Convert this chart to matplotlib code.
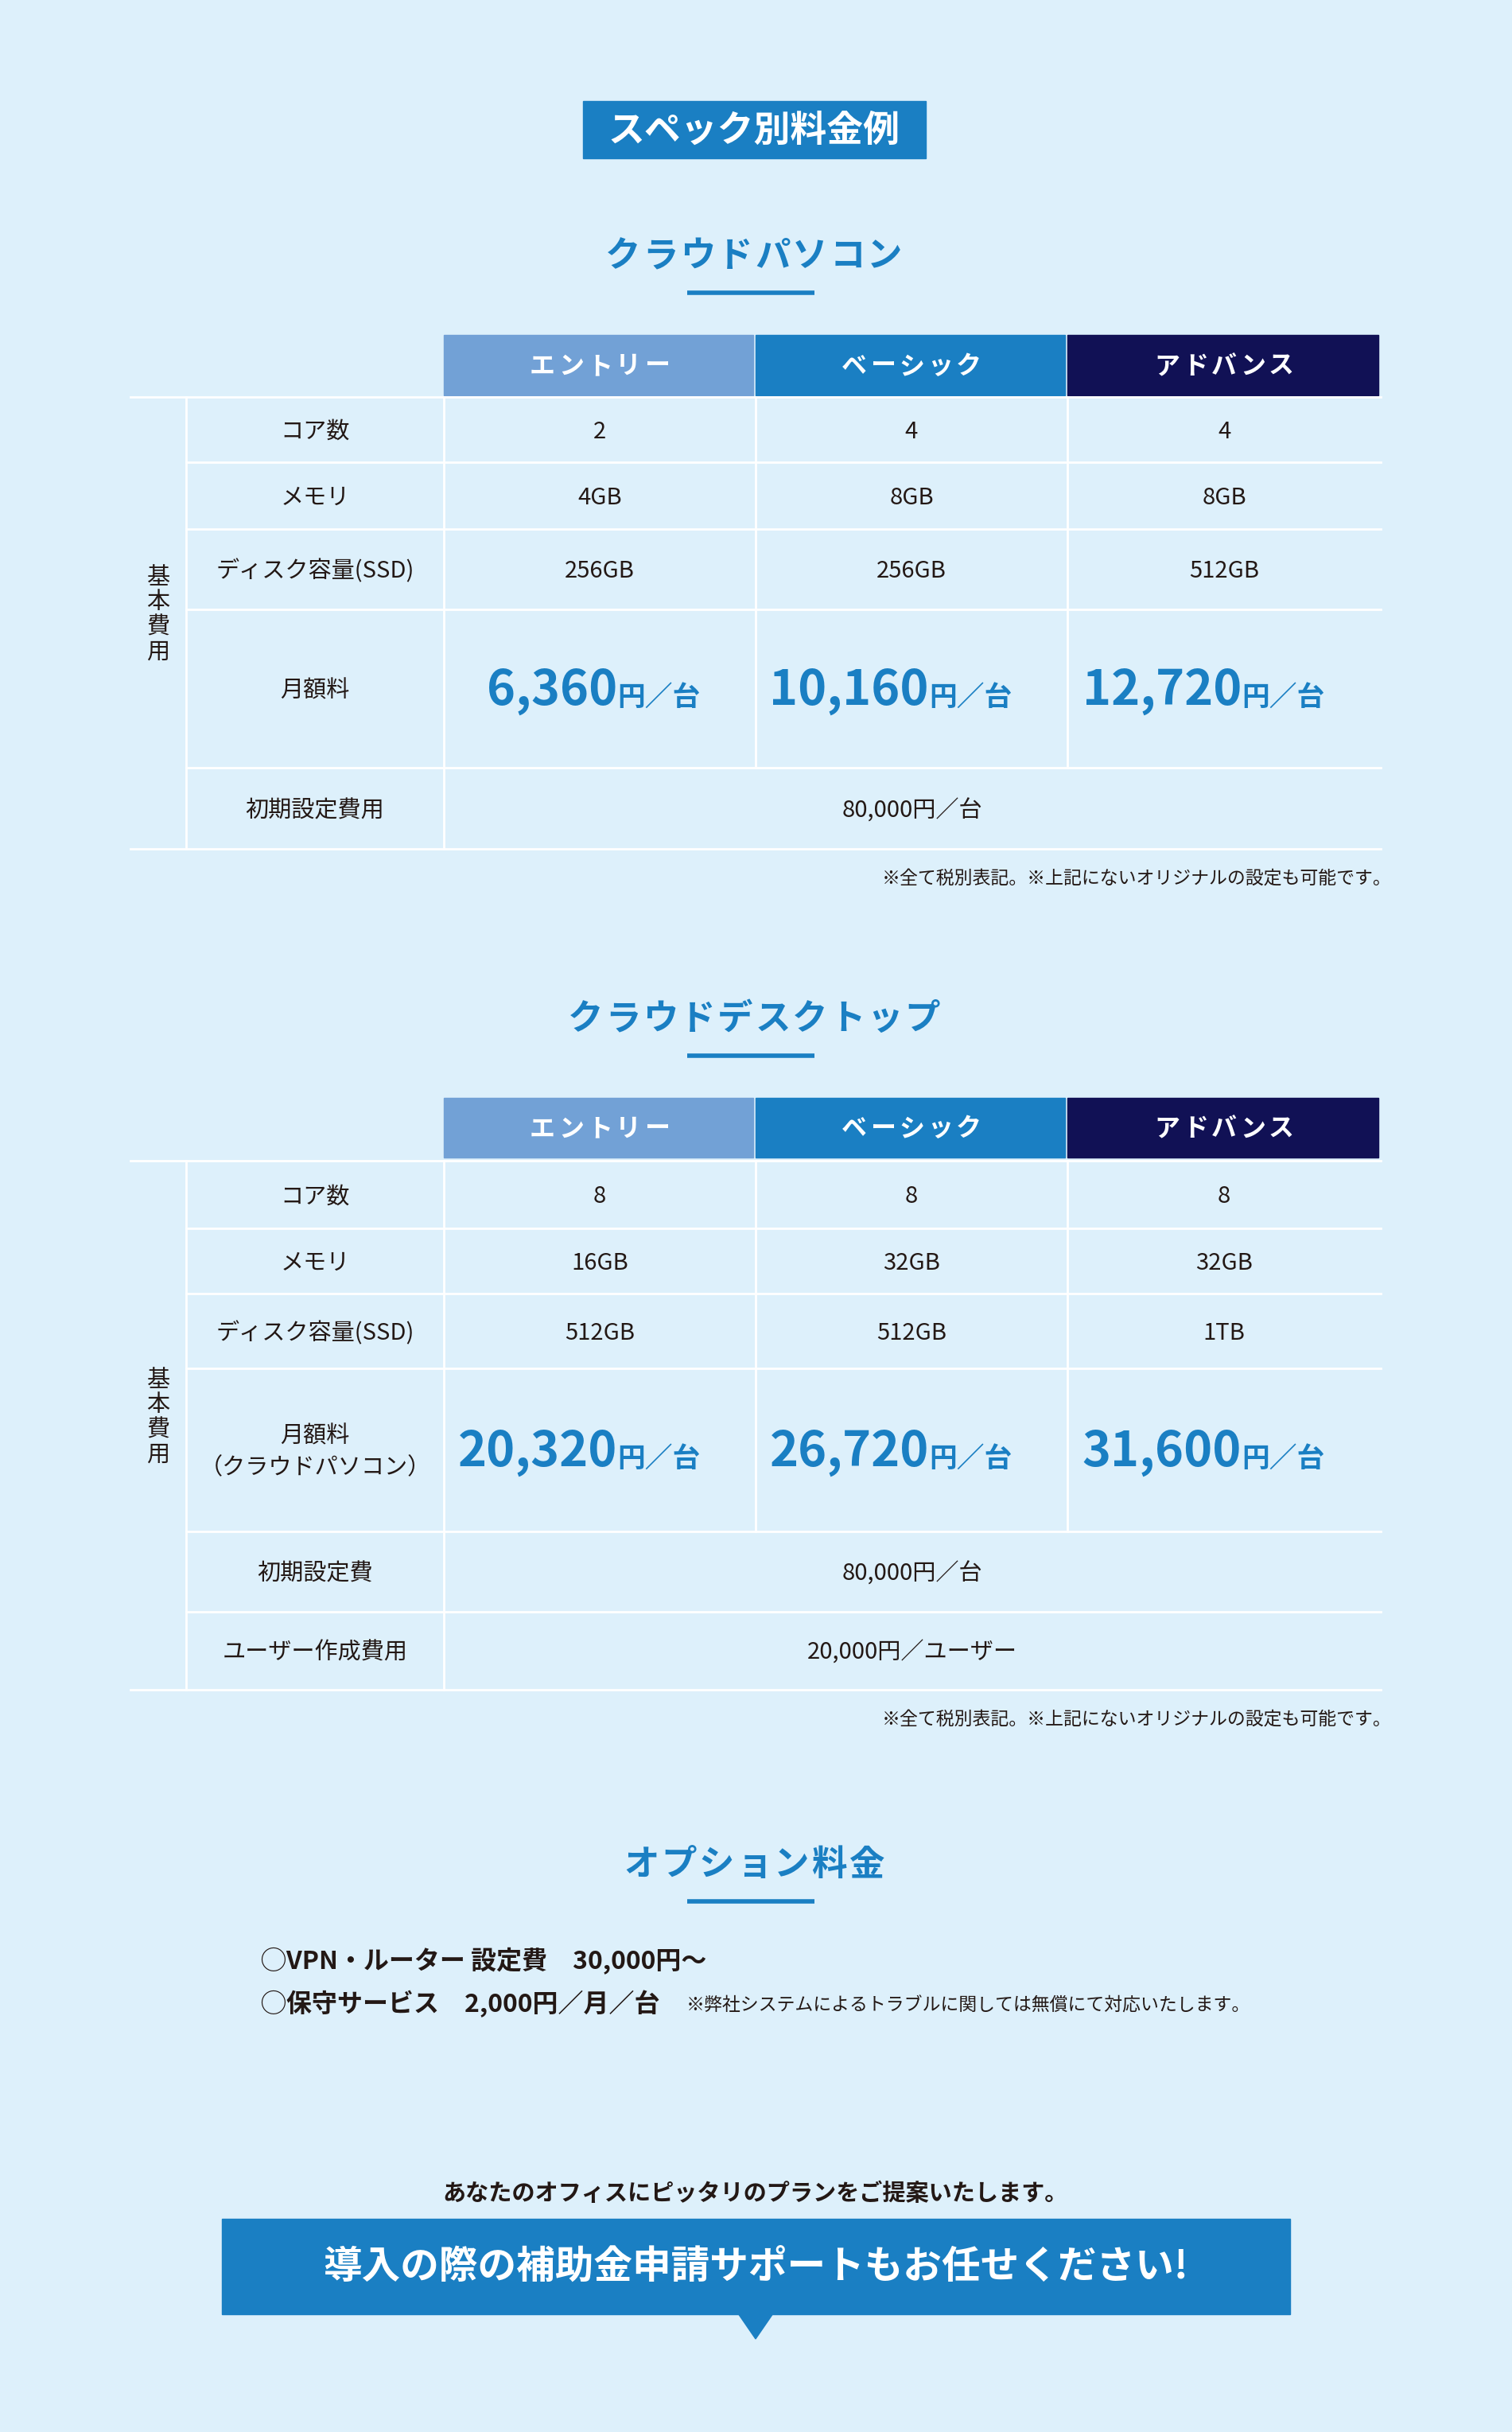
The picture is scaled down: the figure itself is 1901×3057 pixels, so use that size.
import matplotlib
matplotlib.use("Agg")
import matplotlib.pyplot as plt
from matplotlib.patches import Rectangle, Polygon

plt.rcParams["font.family"] = "Noto Sans CJK JP"

tiers = ["エントリー", "ベーシック", "アドバンス"]
tier_colors = ["#72A1D6", "#1A7FC3", "#111155"]

pc_rows = ["コア数", "メモリ", "ディスク容量(SSD)", "月額料", "初期設定費用"]
pc_cores = ["2", "4", "4"]
pc_memory = ["4GB", "8GB", "8GB"]
pc_disk = ["256GB", "256GB", "512GB"]
pc_price = ["6,360", "10,160", "12,720"]
pc_setup = "80,000円／台"

dt_rows = ["コア数", "メモリ", "ディスク容量(SSD)", "月額料\n（クラウドパソコン）", "初期設定費", "ユーザー作成費用"]
dt_cores = ["8", "8", "8"]
dt_memory = ["16GB", "32GB", "32GB"]
dt_disk = ["512GB", "512GB", "1TB"]
dt_price = ["20,320", "26,720", "31,600"]
dt_setup = "80,000円／台"
dt_user = "20,000円／ユーザー"

note = "※全て税別表記。※上記にないオリジナルの設定も可能です。"

BG = "#DDF0FB"
BLUE = "#1A7FC3"
TXT = "#231815"

W, H = 1901, 3057
fig = plt.figure(figsize=(W/100, H/100), dpi=100, facecolor=BG)
ax = fig.add_axes([0, 0, 1, 1])
ax.set_xlim(0, W); ax.set_ylim(H, 0); ax.axis("off")
ax.set_facecolor(BG)

ax.add_patch(Rectangle((733, 127), 431, 72, color=BLUE))
ax.text(948, 165, "スペック別料金例", color="white", fontsize=33, fontweight="bold", ha="center", va="center")

def spaced(x, y, text, step, **kw):
    n = len(text)
    for k, ch in enumerate(text):
        ax.text(x + (k - (n-1)/2)*step, y, ch, ha="center", va="center", **kw)

def section_title(y, text):
    spaced(948, y, text, 47, color=BLUE, fontsize=32, fontweight="bold")
    ax.plot([864, 1024], [y+46, y+46], color=BLUE, lw=4, solid_capstyle="butt")

cols = [558, 950, 1342, 1736]
LX, IX = 164, 234

def table(top, hb, lines, rows, data, spans):
    for i in range(3):
        ax.add_patch(Rectangle((cols[i], top), cols[i+1]-cols[i]-3, hb-top, color=tier_colors[i]))
        spaced((cols[i]+cols[i+1])/2, (top+hb)/2 + 2, tiers[i], 36, color="white", fontsize=23,
               fontweight="bold")
    lw = 2
    ax.plot([LX, cols[-1]], [lines[0], lines[0]], color="white", lw=lw)
    for y in lines[1:-1]:
        ax.plot([IX, cols[-1]], [y, y], color="white", lw=lw)
    ax.plot([LX, cols[-1]], [lines[-1], lines[-1]], color="white", lw=lw)
    ax.plot([IX, IX], [lines[0], lines[-1]], color="white", lw=lw)
    ax.plot([cols[0], cols[0]], [lines[0], lines[-1]], color="white", lw=lw)
    for r in range(len(rows)):
        y0, y1 = lines[r], lines[r+1]
        yc = (y0+y1)/2 + 3
        ax.text((IX+cols[0])/2, yc, rows[r], color=TXT, fontsize=21, ha="center", va="center", linespacing=1.4)
        if r in spans:
            ax.text((cols[0]+cols[-1])/2, yc, spans[r], color=TXT, fontsize=21, ha="center", va="center")
            continue
        for i in range(1, 3):
            ax.plot([cols[i], cols[i]], [y0, y1], color="white", lw=lw)
        for i in range(3):
            xc = (cols[i]+cols[i+1])/2
            v = data[r][i]
            if isinstance(v, tuple):
                ax.text(xc+22, yc, v[0], color=BLUE, fontsize=44, fontweight="bold", ha="right", va="center")
                ax.text(xc+22, yc+8, "円／台", color=BLUE, fontsize=25, fontweight="bold", ha="left", va="center")
            else:
                ax.text(xc, yc, v, color=TXT, fontsize=21, ha="center", va="center")
    ax.text((LX+IX)/2, (lines[0]+lines[-1])/2 - 10, "基\n本\n費\n用", color=TXT, fontsize=21,
            ha="center", va="center", linespacing=1.05)
    ax.text(1749, lines[-1]+37, note, color=TXT, fontsize=16.5, ha="right", va="center")

section_title(322, "クラウドパソコン")
table(421, 497, [499, 581, 665, 766, 965, 1067], pc_rows,
      [pc_cores, pc_memory, pc_disk, [(p,) for p in pc_price]], {4: pc_setup})

section_title(1281, "クラウドデスクトップ")
table(1380, 1455, [1459, 1544, 1626, 1720, 1925, 2026, 2124], dt_rows,
      [dt_cores, dt_memory, dt_disk, [(p,) for p in dt_price]], {4: dt_setup, 5: dt_user})

section_title(2344, "オプション料金")
ax.text(328, 2465, "◯VPN・ルーター 設定費　30,000円～", color=TXT, fontsize=23, fontweight="bold", ha="left", va="center")
ax.text(328, 2519, "◯保守サービス　2,000円／月／台", color=TXT, fontsize=23, fontweight="bold", ha="left", va="center")
ax.text(863, 2521, "※弊社システムによるトラブルに関しては無償にて対応いたします。", color=TXT, fontsize=16.5, ha="left", va="center")

ax.text(950, 2757, "あなたのオフィスにピッタリのプランをご提案いたします。", color=TXT, fontsize=21, fontweight="bold", ha="center", va="center")
ax.add_patch(Rectangle((279, 2789), 1343, 120, color=BLUE))
ax.add_patch(Polygon([(928, 2908), (972, 2908), (950, 2940)], closed=True, color=BLUE))
ax.text(950, 2849, "導入の際の補助金申請サポートもお任せください!", color="white", fontsize=35, fontweight="bold", ha="center", va="center")

fig.savefig("out.png", dpi=100, facecolor=BG)
